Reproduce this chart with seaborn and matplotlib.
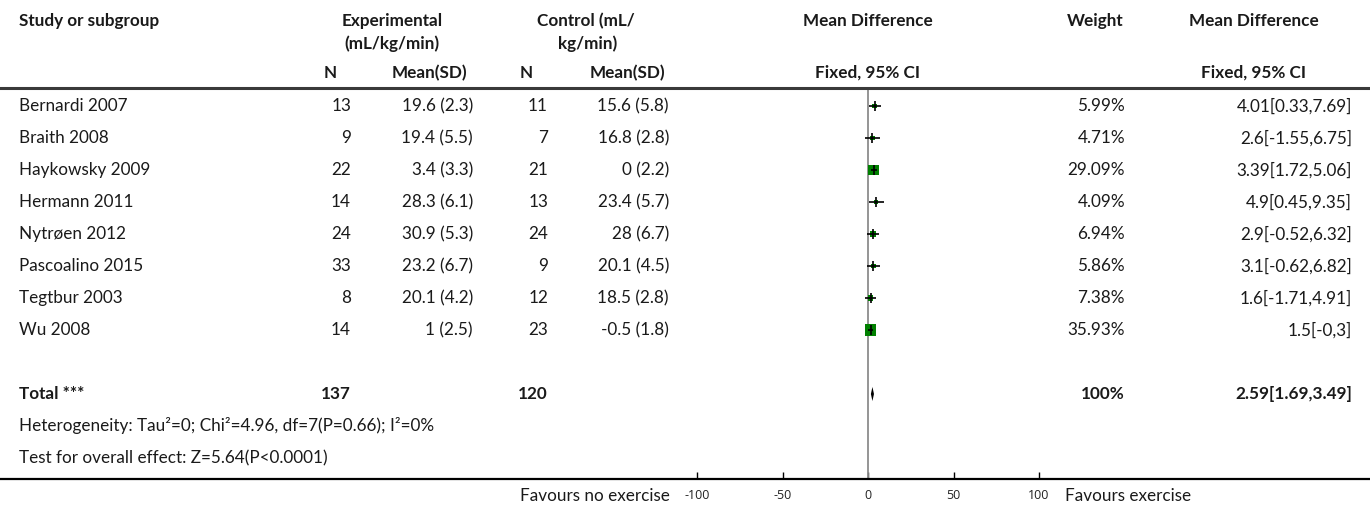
import matplotlib
matplotlib.use("Agg")
import matplotlib.pyplot as plt
import seaborn as sns
import numpy as np
import pandas as pd

# ---------------- data ----------------
studies = ["Bernardi 2007", "Braith 2008", "Haykowsky 2009", "Hermann 2011",
           "Nytrøen 2012", "Pascoalino 2015", "Tegtbur 2003", "Wu 2008"]
exp_n = [13, 9, 22, 14, 24, 33, 8, 14]
exp_mean = [19.6, 19.4, 3.4, 28.3, 30.9, 23.2, 20.1, 1]
exp_sd = [2.3, 5.5, 3.3, 6.1, 5.3, 6.7, 4.2, 2.5]
ctl_n = [11, 7, 21, 13, 24, 9, 12, 23]
ctl_mean = [15.6, 16.8, 0, 23.4, 28, 20.1, 18.5, -0.5]
ctl_sd = [5.8, 2.8, 2.2, 5.7, 6.7, 4.5, 2.8, 1.8]
weights = [5.99, 4.71, 29.09, 4.09, 6.94, 5.86, 7.38, 35.93]
md = [4.01, 2.6, 3.39, 4.9, 2.9, 3.1, 1.6, 1.5]
md_lo = [0.33, -1.55, 1.72, 0.45, -0.52, -0.62, -1.71, -0.0]
md_hi = [7.69, 6.75, 5.06, 9.35, 6.32, 6.82, 4.91, 3]

total_exp_n = 137
total_ctl_n = 120
total_weight = 100
total_md = 2.59
total_lo = 1.69
total_hi = 3.49

heterogeneity = "Heterogeneity: Tau²=0; Chi²=4.96, df=7(P=0.66); I²=0%"
overall = "Test for overall effect: Z=5.64(P<0.0001)"
xticks = [-100, -50, 0, 50, 100]
left_label = "Favours no exercise"
right_label = "Favours exercise"

# ---------------- layout ----------------
W, H = 1370, 509
sns.set_theme(style="white")
FONT = ["Lato", "DejaVu Sans"]
plt.rcParams["font.family"] = FONT

fig = plt.figure(figsize=(W / 100, H / 100), dpi=100)

# text layer in pixel coordinates
ax_t = fig.add_axes([0, 0, 1, 1])
ax_t.set_xlim(0, W)
ax_t.set_ylim(H, 0)
ax_t.axis("off")

header_top = 88
axis_y = 479
row0 = 106
row_step = 32
px_per_unit = 1.71
zero_px = 868

# forest axes
ax = fig.add_axes([0, (H - axis_y) / H, 1, (axis_y - header_top) / H])
ax.set_xlim(-zero_px / px_per_unit, (W - zero_px) / px_per_unit)
ax.set_ylim((axis_y - row0) / row_step, (header_top - row0) / row_step)
ax.patch.set_alpha(0)

rows = np.arange(len(studies))
df = pd.DataFrame({"md": md, "row": rows, "w": weights})

ax.axvline(0, color="#8c8c8c", lw=1.3, zorder=1)

k = 2.0
sns.scatterplot(data=df, x="md", y="row", size="w",
                sizes=(k * min(weights), k * max(weights)),
                size_norm=(min(weights), max(weights)),
                marker="s", color="#008000", linewidth=0, legend=False,
                ax=ax, zorder=3)
ax.hlines(rows, md_lo, md_hi, color="black", lw=1.2, zorder=4)
ax.scatter(md, rows, marker="|", s=48, color="black", linewidths=1.2, zorder=5)

# total diamond
trow = len(studies) + 1
dh = 0.22
ax.fill([total_lo, total_md, total_hi, total_md],
        [trow, trow - dh, trow, trow + dh], color="black", lw=0, zorder=4)

for s in ["left", "right"]:
    ax.spines[s].set_visible(False)
ax.spines["top"].set_color("#3a3a3a")
ax.spines["top"].set_linewidth(2.2)
ax.spines["bottom"].set_color("black")
ax.spines["bottom"].set_linewidth(1.6)
ax.set_yticks([])
ax.set_xticks(xticks)
ax.set_xticklabels([str(t) for t in xticks], fontfamily=["Open Sans", "DejaVu Sans"],
                   fontsize=9, color="#222222")
ax.tick_params(axis="x", direction="in", length=5, width=1, color="black",
               pad=7, bottom=True)
ax.set_xlabel("")
ax.set_ylabel("")
ax.grid(False)

# ---------------- text ----------------
FS = 12.3
TC = "#1a1a1a"

def t(x, y, s, ha="left", bold=False, fs=FS):
    ax_t.text(x, y, s, ha=ha, va="center", fontsize=fs, color=TC,
              fontweight="bold" if bold else "normal")

# column positions (pixels)
x_name = 19
x_en, x_em, x_cn, x_cm = 351, 473, 548, 669
x_w, x_md = 1125, 1352
y_h1, y_h2, y_h3 = 21, 44, 73

t(x_name, y_h1, "Study or subgroup", bold=True)
t(392, y_h1, "Experimental", ha="center", bold=True)
t(392, y_h2, "(mL/kg/min)", ha="center", bold=True)
t(586, y_h1, "Control (mL/", ha="center", bold=True)
t(588, y_h2, "kg/min)", ha="center", bold=True)
t(zero_px, y_h1, "Mean Difference", ha="center", bold=True)
t(1095, y_h1, "Weight", ha="center", bold=True)
t(1254, y_h1, "Mean Difference", ha="center", bold=True)
t(337, y_h3, "N", ha="right", bold=True)
t(467, y_h3, "Mean(SD)", ha="right", bold=True)
t(533, y_h3, "N", ha="right", bold=True)
t(665, y_h3, "Mean(SD)", ha="right", bold=True)
t(zero_px, y_h3, "Fixed, 95% CI", ha="center", bold=True)
t(1254, y_h3, "Fixed, 95% CI", ha="center", bold=True)

def g(v):
    return f"{v:g}"

for i, name in enumerate(studies):
    y = row0 + i * row_step
    t(x_name, y, name)
    t(x_en, y, str(exp_n[i]), ha="right")
    t(x_em, y, f"{g(exp_mean[i])} ({g(exp_sd[i])})", ha="right")
    t(x_cn, y, str(ctl_n[i]), ha="right")
    t(x_cm, y, f"{g(ctl_mean[i])} ({g(ctl_sd[i])})", ha="right")
    t(x_w, y, f"{weights[i]:.2f}%", ha="right")
    t(x_md, y, f"{g(md[i])}[{g(md_lo[i])},{g(md_hi[i])}]", ha="right")

yT = row0 + trow * row_step
t(x_name, yT, "Total ***", bold=True)
t(x_en, yT, str(total_exp_n), ha="right", bold=True)
t(x_cn, yT, str(total_ctl_n), ha="right", bold=True)
t(x_w, yT, f"{total_weight}%", ha="right", bold=True)
t(x_md, yT, f"{g(total_md)}[{g(total_lo)},{g(total_hi)}]", ha="right", bold=True)

t(x_name, row0 + (trow + 1) * row_step, heterogeneity)
t(x_name, row0 + (trow + 2) * row_step, overall)

t(670, 496, left_label, ha="right")
t(1065, 496, right_label, ha="left")

fig.savefig("out.png", dpi=100)
